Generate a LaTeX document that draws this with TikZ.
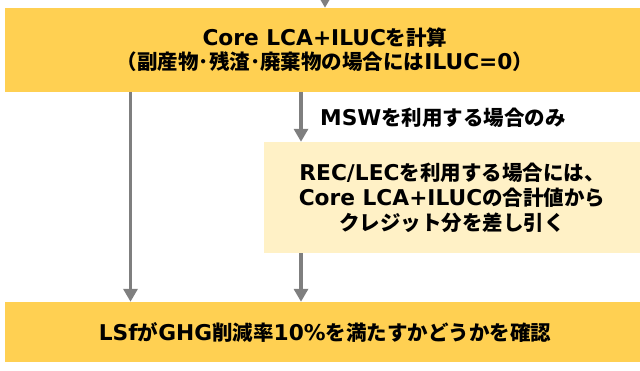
\documentclass[tikz,border=0pt]{standalone}
\usepackage{fontspec}
\setmainfont{Noto Sans CJK JP}
\newfontfamily\latfont{DejaVu Sans}[Scale=1.06]
\newcommand\lt[1]{{\latfont\bfseries #1}}
\usetikzlibrary{arrows.meta,calc}
\definecolor{amber}{HTML}{FFD052}
\definecolor{cream}{HTML}{FFF1C6}
\definecolor{arrgray}{HTML}{7F7F7F}
\tikzset{
  mainbox/.style={fill=amber, draw=none, align=center, inner sep=0pt, font=\bfseries\fontsize{20.5}{24}\selectfont},
  subbox/.style={fill=cream, draw=none, align=center, inner sep=0pt, font=\bfseries\fontsize{20.5}{25}\selectfont},
  lbl/.style={inner sep=0pt, font=\bfseries\fontsize{20.5}{24}\selectfont},
  arr/.style={draw=arrgray, line width=3.5pt, -{Triangle[width=14pt,length=13pt]}}
}
\begin{document}
\begin{tikzpicture}[x=1pt,y=-1pt]
\useasboundingbox (0,0) rectangle (640,371);
\clip (0,0) rectangle (640,371);
\node[mainbox, minimum width=640pt, minimum height=84pt] (top) at (325,50)
  {\lt{Core LCA+ILUC}を計算\\（副産物･残渣･廃棄物の場合には\lt{ILUC=0}）};
\node[subbox, minimum width=376pt, minimum height=111pt] (sub) at (452,197.5)
  {\lt{REC/LEC}を利用する場合には、\\\lt{Core LCA+ILUC}の合計値から\\クレジット分を差し引く};
\node[mainbox, minimum width=640pt, minimum height=60pt] (bot) at (325,332)
  {\lt{LSf}が\lt{GHG}削減率\lt{10\%}を満たすかどうかを確認};
\node[lbl, anchor=west] (msw) at (320,118) {\lt{MSW}を利用する場合のみ};
\coordinate (in) at (325,-20);
\coordinate (cL) at (130.5,0);
\coordinate (cR) at (301,0);
\draw[arr] (in) -- (top.north -| in);
\draw[arr] (top.south -| cL) -- (bot.north -| cL);
\draw[arr] (top.south -| cR) -- (sub.north -| cR);
\draw[arr] (sub.south -| cR) -- (bot.north -| cR);
\end{tikzpicture}
\end{document}
